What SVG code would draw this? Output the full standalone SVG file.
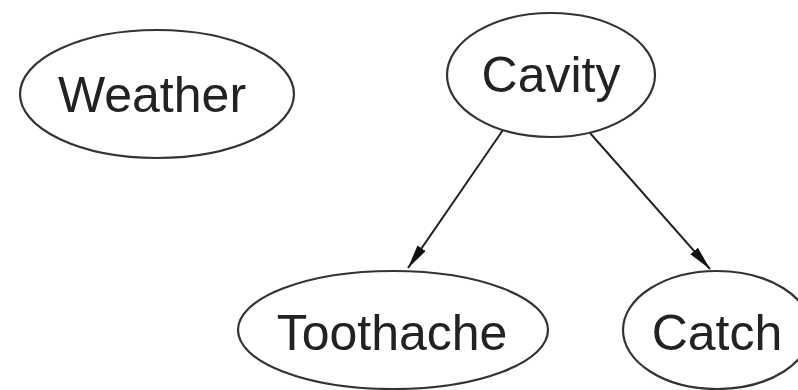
<svg xmlns="http://www.w3.org/2000/svg" width="798" height="390" viewBox="0 0 798 390">
<style>
.node ellipse{fill:#fff;stroke:#333;stroke-width:2.2}
.node text{font-family:"Liberation Sans",Arial,sans-serif;font-size:50px;fill:#222;text-anchor:middle}
.edge{stroke:#222;stroke-width:2;fill:none}
</style>
<defs>
<marker id="arrow" markerUnits="userSpaceOnUse" markerWidth="26" markerHeight="12" refX="24" refY="5" orient="auto">
<path d="M0,0 L24,5 L0,10 z" fill="#111"/>
</marker>
</defs>
<rect width="798" height="390" fill="#fff"/>
<g id="connectors">
<line class="edge" x1="503" y1="130" x2="408" y2="268" marker-end="url(#arrow)"/>
<line class="edge" x1="590" y1="133" x2="710" y2="269" marker-end="url(#arrow)"/>
</g>
<g id="weather" class="node">
<ellipse cx="157" cy="94" rx="137" ry="64"/>
<text x="152" y="112">Weather</text>
</g>
<g id="cavity" class="node">
<ellipse cx="551" cy="75" rx="104" ry="62"/>
<text x="551" y="92">Cavity</text>
</g>
<g id="toothache" class="node">
<ellipse cx="393" cy="330" rx="155" ry="59"/>
<text x="392" y="350">Toothache</text>
</g>
<g id="catch" class="node">
<ellipse cx="717" cy="330" rx="94" ry="59"/>
<text x="717" y="350">Catch</text>
</g>
</svg>
